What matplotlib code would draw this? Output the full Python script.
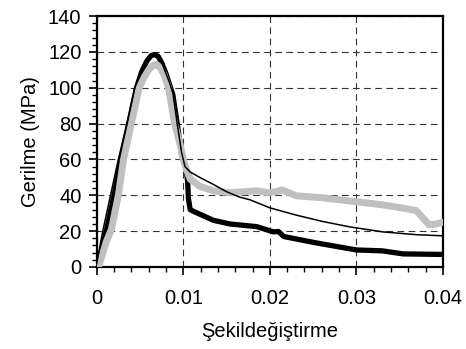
import numpy as np
import matplotlib
matplotlib.use("Agg")
import matplotlib.pyplot as plt
from matplotlib.ticker import MultipleLocator, FuncFormatter

plt.rcParams['font.family'] = ['Liberation Sans', 'DejaVu Sans']

# ince siyah egri
thin_x = [0, 0.0007, 0.0016, 0.0025, 0.0035, 0.0044, 0.0050, 0.0055, 0.0060, 0.0064,
          0.0068, 0.0072, 0.0076, 0.0080, 0.0084, 0.0088, 0.0093, 0.0098, 0.0102, 0.0108,
          0.0119, 0.0135, 0.0150, 0.0165, 0.0177, 0.0200, 0.0230, 0.0260, 0.0292, 0.0330,
          0.0370, 0.0400]
thin_y = [2, 20, 40, 60, 80, 100, 108, 113, 116.5, 118,
          118, 116.5, 113, 108, 103, 97, 80, 64, 56, 53,
          50, 46, 42, 39, 37.5, 33, 29, 25.5, 22.4, 19.6,
          18, 17.4]

# kalin siyah egri
thick_x = [0, 0.0005, 0.0011, 0.0020, 0.0028, 0.0037, 0.0046, 0.0052, 0.0058, 0.0063,
           0.0067, 0.0071, 0.0075, 0.0080, 0.0084, 0.0088, 0.0093, 0.0098, 0.0103, 0.0105,
           0.0106, 0.0108, 0.0112, 0.0135, 0.0154, 0.0185, 0.0204, 0.0210, 0.0216, 0.0254,
           0.0300, 0.0330, 0.0354, 0.0400]
thick_y = [0, 8, 20, 40, 60, 80, 100, 109, 115, 118,
           118.5, 117.5, 114, 108, 102, 96, 80, 63, 55, 48,
           38, 32, 31, 26, 24, 22.5, 19.6, 19.8, 17, 13.4,
           9.5, 9, 7.3, 7]

# gri egri
gray_x = [0.0002, 0.0006, 0.0011, 0.0017, 0.0025, 0.0031, 0.0040, 0.0049, 0.0055, 0.0060,
          0.0065, 0.0069, 0.0073, 0.0078, 0.0083, 0.0090, 0.0097, 0.0100, 0.0104, 0.0108,
          0.0119, 0.0135, 0.0154, 0.0170, 0.0185, 0.0197, 0.0207, 0.0214, 0.0231, 0.0261,
          0.0300, 0.0330, 0.0352, 0.0369, 0.0384, 0.0392, 0.0400]
gray_y = [0, 6, 14, 21, 40, 60, 80, 100, 106, 110,
          112.5, 113, 111.5, 107, 100, 80, 67, 60, 54, 49,
          45, 42.5, 41.4, 42, 42.5, 41.5, 42, 43, 39.7, 38.6,
          36.4, 34.7, 33, 31.5, 23.5, 24, 25]

fig = plt.figure(figsize=(4.66, 3.49), dpi=100)
ax = fig.add_axes([0.2075, 0.235, 0.7431, 0.719])

ax.plot(thick_x, thick_y, color='black', lw=3.8, solid_joinstyle='round',
        solid_capstyle='round', zorder=3)
ax.plot(gray_x, gray_y, color='#c0c0c0', lw=5, solid_joinstyle='round',
        solid_capstyle='round', zorder=4)
ax.plot(thin_x, thin_y, color='black', lw=1.1, zorder=5)

ax.set_xlim(0, 0.04)
ax.set_ylim(0, 140)
ax.xaxis.set_major_locator(MultipleLocator(0.01))
ax.xaxis.set_minor_locator(MultipleLocator(0.002))
ax.yaxis.set_major_locator(MultipleLocator(20))
ax.yaxis.set_minor_locator(MultipleLocator(4))
ax.xaxis.set_major_formatter(FuncFormatter(lambda v, p: '0' if abs(v) < 1e-9 else f'{v:.2f}'))

ax.grid(True, which='major', color='#333333', linestyle=(0, (6, 4)), linewidth=0.8)
ax.set_axisbelow(True)

for s in ax.spines.values():
    s.set_linewidth(1.6)
    s.set_color('black')

ax.tick_params(which='major', direction='out', length=6, width=1.2, labelsize=14.5)
ax.tick_params(axis='x', which='major', pad=10)
ax.tick_params(axis='y', which='major', pad=5)
ax.tick_params(which='minor', direction='out', length=3.6, width=1.0)

ax.set_xlabel('Şekildeğiştirme', fontsize=14.5, labelpad=10)
ax.set_ylabel('Gerilme (MPa)', fontsize=14.5, labelpad=6)

fig.savefig('out.png', dpi=100)
